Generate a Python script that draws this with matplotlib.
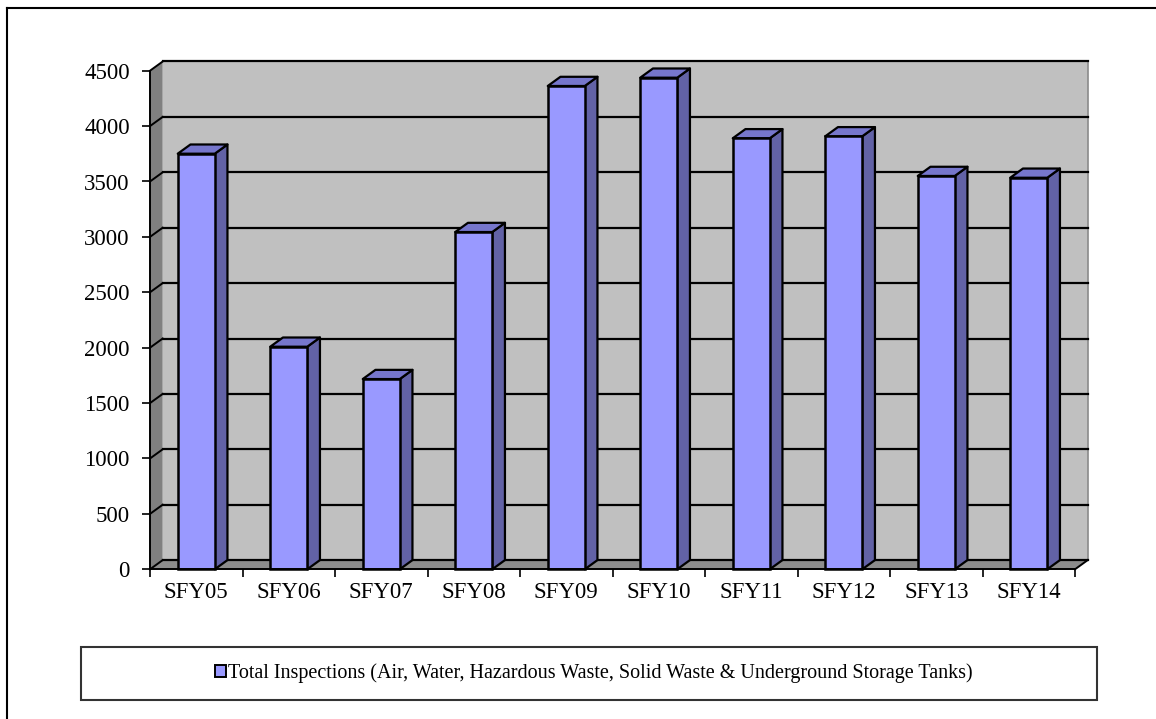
import matplotlib
matplotlib.use("Agg")
import matplotlib.pyplot as plt
from matplotlib.patches import Polygon, Rectangle, Patch
from matplotlib.lines import Line2D

# Data
categories = ["SFY05", "SFY06", "SFY07", "SFY08", "SFY09",
              "SFY10", "SFY11", "SFY12", "SFY13", "SFY14"]
inspections = [3751, 2009, 1717, 3044, 4362, 4437, 3890, 3908, 3550, 3534]
y_ticks = list(range(0, 4501, 500))
series_label = ("Total Inspections (Air, Water, Hazardous Waste, "
                "Solid Waste & Underground Storage Tanks)")

# Style
FRONT = "#9999FF"
TOP = "#7676CC"
SIDE = "#6262A6"
WALL = "#C0C0C0"
SIDE_WALL = "#808080"
FLOOR = "#8C8C8C"
FONT = "Liberation Serif"

W, H = 1156, 719
fig = plt.figure(figsize=(W / 100, H / 100), dpi=100)
fig.patch.set_facecolor("white")

ax = fig.add_axes([150 / W, 149.7 / H, 925 / W, 498.6 / H])
n = len(categories)
ymax = 4500
ax.set_xlim(0, n)
ax.set_ylim(0, ymax)
ax.patch.set_visible(False)

# depth of the 3-D box expressed in data units (pixels -> data)
dx_px, dy_px = 12.7, 9.2
ddx = dx_px / (925 / n)
ddy = dy_px / (498.6 / ymax)


def back(x, y):
    return (x + ddx, y + ddy)


# walls and floor
ax.add_patch(Polygon([back(0, 0), back(n, 0), back(n, ymax), back(0, ymax)],
                     closed=True, facecolor=WALL, edgecolor="none",
                     zorder=0.5, clip_on=False))
ax.add_patch(Polygon([(0, 0), (0, ymax), back(0, ymax), back(0, 0)],
                     closed=True, facecolor=SIDE_WALL, edgecolor="none",
                     zorder=0.5, clip_on=False))
ax.add_patch(Polygon([(0, 0), (n, 0), back(n, 0), back(0, 0)],
                     closed=True, facecolor=FLOOR, edgecolor="none",
                     zorder=0.5, clip_on=False))
# right edge of back wall
bx0, by0 = back(n, 0)
bx1, by1 = back(n, ymax)
ax.add_line(Line2D([bx0, bx1], [by0, by1], color="#8a8a8a", lw=1.2,
                   zorder=0.8, clip_on=False))
# floor right edge
ax.add_line(Line2D([n, bx0], [0, by0], color="black", lw=1.4,
                   zorder=0.8, clip_on=False))

# gridlines on back wall and side wall
for v in y_ticks:
    x0, yb = back(0, v)
    x1, _ = back(n, v)
    ax.add_line(Line2D([x0, x1], [yb, yb], color="black", lw=1.6,
                       zorder=1, clip_on=False))
    ax.add_line(Line2D([0, x0], [v, yb], color="black", lw=1.4,
                       zorder=1, clip_on=False))

# 3-D bars
half = 0.2
for i, v in enumerate(inspections):
    c = i + 0.5
    xl, xr = c - half, c + half
    ax.add_patch(Polygon([(xr, 0), (xr, v), back(xr, v), back(xr, 0)],
                         closed=True, facecolor=SIDE, edgecolor="black",
                         lw=1.6, joinstyle="round", zorder=3, clip_on=False))
    ax.add_patch(Polygon([(xl, v), (xr, v), back(xr, v), back(xl, v)],
                         closed=True, facecolor=TOP, edgecolor="black",
                         lw=1.6, joinstyle="round", zorder=3, clip_on=False))
    ax.add_patch(Rectangle((xl, 0), xr - xl, v, facecolor=FRONT,
                           edgecolor="black", lw=1.8, zorder=4,
                           clip_on=False))

# axes lines and ticks
for s in ("top", "right"):
    ax.spines[s].set_visible(False)
for s in ("left", "bottom"):
    ax.spines[s].set_color("black")
    ax.spines[s].set_linewidth(1.4)
    ax.spines[s].set_zorder(5)

ax.set_yticks(y_ticks)
ax.set_yticklabels([str(t) for t in y_ticks])
ax.set_xticks(range(n + 1))
ax.set_xticklabels([])
ax.set_xticks([i + 0.5 for i in range(n)], minor=True)
ax.set_xticklabels(categories, minor=True)
ax.tick_params(axis="y", direction="out", length=6, width=1.2,
               pad=8.5, labelsize=16.5, colors="black")
ax.tick_params(axis="x", which="major", direction="out", length=6,
               width=1.2)
ax.tick_params(axis="x", which="minor", length=0, pad=9.5, labelsize=16.5)
for lab in ax.get_yticklabels() + ax.get_xticklabels(minor=True):
    lab.set_fontfamily(FONT)

# outer frame (left and top edges)
fig.add_artist(Line2D([6.5 / W, 6.5 / W], [0, 1 - 7.5 / H],
                      transform=fig.transFigure, color="black", lw=1.5))
fig.add_artist(Line2D([6.5 / W, 1], [1 - 7.5 / H, 1 - 7.5 / H],
                      transform=fig.transFigure, color="black", lw=1.5))

# legend box
lx0, lx1 = 81 / W, 1097 / W
ly0, ly1 = (H - 700) / H, (H - 647) / H
fig.add_artist(Rectangle((lx0, ly0), lx1 - lx0, ly1 - ly0,
                         transform=fig.transFigure, facecolor="white",
                         edgecolor="#333333", lw=1.5))
handle = Patch(facecolor=FRONT, edgecolor="black", lw=1.4)
fig.legend([handle], [series_label], loc="center",
           bbox_to_anchor=((lx0 + lx1) / 2 + 0.004, (ly0 + ly1) / 2),
           frameon=False, handlelength=0.55, handleheight=0.55,
           handletextpad=0.1, borderpad=0,
           prop={"family": FONT, "size": 14.5})

fig.savefig("out.png", dpi=100)
